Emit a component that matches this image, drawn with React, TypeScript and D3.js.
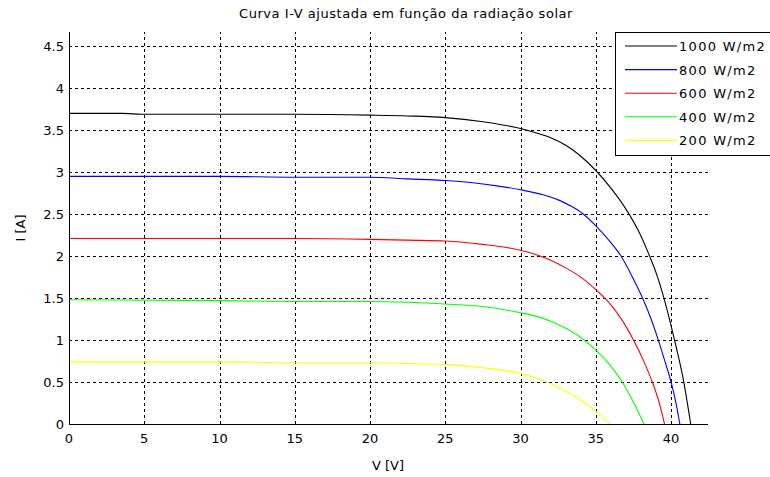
import React, { FC, useEffect, useRef } from "react";
import * as d3 from "d3";

// Curvas I-V (V em volts, I em ampères)
const v1000 = [0, 3.5, 5, 10, 15, 20, 22.5, 25, 27.5, 30, 31, 32, 33, 34, 35, 36, 37, 37.8, 38.5, 39.1, 39.6, 40.2, 40.8, 41.3];
const i1000 = [3.70, 3.70, 3.69, 3.69, 3.69, 3.68, 3.67, 3.65, 3.60, 3.52, 3.47, 3.41, 3.32, 3.19, 3.02, 2.81, 2.56, 2.31, 2.03, 1.75, 1.45, 1.02, 0.54, 0];

const v800 = [0, 5, 10, 15, 20, 22.5, 25, 27.5, 30, 31.5, 32.5, 33.3, 34.1, 35, 36, 36.64, 37.4, 38.1, 38.65, 39.15, 39.6, 40.0, 40.3, 40.58];
const i800 = [2.95, 2.95, 2.95, 2.94, 2.94, 2.92, 2.90, 2.86, 2.79, 2.73, 2.67, 2.60, 2.51, 2.36, 2.16, 2.01, 1.76, 1.5, 1.26, 1.0, 0.74, 0.5, 0.27, 0];

const v600 = [0, 5, 10, 15, 20, 22.5, 25, 27.5, 30, 31, 32, 33, 34, 35, 35.8, 36.7, 37.5, 38.2, 38.75, 39.2, 39.56];
const i600 = [2.21, 2.21, 2.21, 2.21, 2.20, 2.19, 2.18, 2.14, 2.07, 2.02, 1.95, 1.86, 1.75, 1.60, 1.46, 1.25, 1.0, 0.74, 0.5, 0.26, 0];

const v400 = [0, 10, 15, 20, 22.5, 25, 27.5, 30, 31, 32, 33, 34, 35, 36, 36.75, 37.5, 38.2];
const i400 = [1.48, 1.47, 1.46, 1.46, 1.45, 1.43, 1.40, 1.325, 1.285, 1.225, 1.14, 1.03, 0.88, 0.69, 0.5, 0.26, 0];

const v200 = [0, 10, 15, 20, 22.5, 25, 27.5, 30, 31, 32, 33, 34, 35, 35.93];
const i200 = [0.74, 0.74, 0.73, 0.73, 0.72, 0.71, 0.67, 0.60, 0.55, 0.48, 0.39, 0.28, 0.15, 0];

const seriesNames = ["1000 W/m2", "800 W/m2", "600 W/m2", "400 W/m2", "200 W/m2"];
const seriesColors = ["#000000", "#0000ff", "#ff0000", "#00ff00", "#ffff00"];
const seriesV = [v1000, v800, v600, v400, v200];
const seriesI = [i1000, i800, i600, i400, i200];

const xTicks = [0, 5, 10, 15, 20, 25, 30, 35, 40];
const yTicks = [0, 0.5, 1, 1.5, 2, 2.5, 3, 3.5, 4, 4.5];

const FONT = "DejaVu Sans";

const App: FC = () => {
    const svgRef = useRef<SVGSVGElement>(null);

    useEffect(() => {
        if (!svgRef.current) return;
        const svg = d3.select(svgRef.current);
        svg.selectAll("*").remove();

        const left = 69, right = 708, top = 32, bottom = 424;

        const x = d3.scaleLinear().domain([0, 42.45]).range([left, right]);
        const y = d3.scaleLinear().domain([0, 4.67]).range([bottom, top]);

        svg.append("rect").attr("width", 770).attr("height", 477).attr("fill", "#fff");

        // grid
        const grid = svg.append("g").attr("stroke", "#000").attr("stroke-width", 1)
            .attr("stroke-dasharray", "3,3").attr("shape-rendering", "crispEdges");
        grid.selectAll(".gx").data(xTicks.filter(t => t > 0)).enter().append("line")
            .attr("x1", d => Math.round(x(d)) + 0.5).attr("x2", d => Math.round(x(d)) + 0.5)
            .attr("y1", bottom).attr("y2", top);
        grid.selectAll(".gy").data(yTicks.filter(t => t > 0)).enter().append("line")
            .attr("y1", d => Math.round(y(d)) + 0.5).attr("y2", d => Math.round(y(d)) + 0.5)
            .attr("x1", left).attr("x2", right);

        // curves
        const line = d3.line<[number, number]>()
            .x(d => x(d[0])).y(d => y(d[1]))
            .curve(d3.curveMonotoneX);
        seriesV.forEach((vs, k) => {
            const pts = vs.map((v, j) => [v, seriesI[k][j]] as [number, number]);
            svg.append("path").attr("d", line(pts) || "")
                .attr("fill", "none").attr("stroke", seriesColors[k]).attr("stroke-width", 1.1);
        });

        // axes lines
        const ax = svg.append("g").attr("stroke", "#000").attr("shape-rendering", "crispEdges");
        ax.append("line").attr("x1", left + 0.5).attr("x2", left + 0.5).attr("y1", top).attr("y2", bottom + 0.5);
        ax.append("line").attr("x1", left).attr("x2", right).attr("y1", bottom + 0.5).attr("y2", bottom + 0.5);

        // tick labels
        const lbl = svg.append("g").attr("font-family", FONT).attr("font-size", 13).attr("fill", "#000");
        lbl.selectAll(".xt").data(xTicks).enter().append("text")
            .attr("x", d => x(d)).attr("y", bottom + 19).attr("text-anchor", "middle").text(d => d);
        lbl.selectAll(".yt").data(yTicks).enter().append("text")
            .attr("x", left - 5).attr("y", d => y(d) + 5).attr("text-anchor", "end").text(d => d);

        // titles
        svg.append("text").attr("x", 406).attr("y", 18).attr("text-anchor", "middle")
            .attr("font-family", FONT).attr("font-size", 13).attr("letter-spacing", 0.55)
            .text("Curva I-V ajustada em função da radiação solar");
        svg.append("text").attr("x", 388).attr("y", 470).attr("text-anchor", "middle")
            .attr("font-family", FONT).attr("font-size", 13).text("V [V]");
        svg.append("text").attr("transform", `translate(25,${(top + bottom) / 2}) rotate(-90)`)
            .attr("text-anchor", "middle").attr("font-family", FONT).attr("font-size", 13).text("I [A]");

        // legend
        const lg = svg.append("g");
        lg.append("rect").attr("x", 615.5).attr("y", 32.5).attr("width", 160).attr("height", 123)
            .attr("fill", "#fff").attr("stroke", "#000").attr("shape-rendering", "crispEdges");
        seriesNames.forEach((name, k) => {
            const yy = 46 + k * 23.6;
            lg.append("line").attr("x1", 625).attr("x2", 677).attr("y1", yy).attr("y2", yy)
                .attr("stroke", seriesColors[k]).attr("stroke-width", 1.1);
            lg.append("text").attr("x", 679).attr("y", yy + 5).attr("font-family", FONT)
                .attr("font-size", 13).attr("letter-spacing", 1.3).text(name);
        });
    }, []);

    return <svg ref={svgRef} width={770} height={477} style={{ display: "block", position: "absolute", left: 0, top: 0 }} />;
};

export default App;
